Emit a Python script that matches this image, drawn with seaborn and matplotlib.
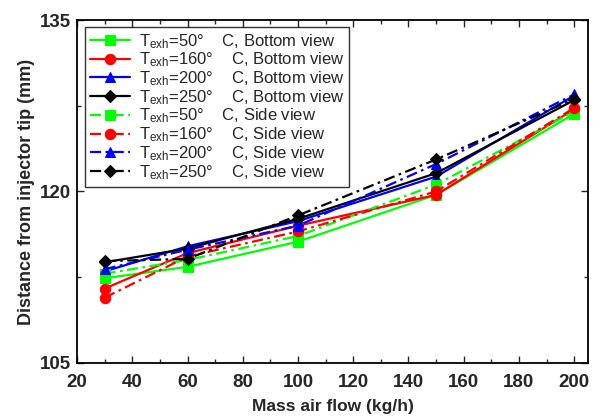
import matplotlib
matplotlib.use("Agg")
import matplotlib.pyplot as plt
from matplotlib.ticker import MultipleLocator
import seaborn as sns
import pandas as pd

sns.set_style("ticks")
plt.rcParams["font.family"] = ["Liberation Sans", "DejaVu Sans"]
plt.rcParams["mathtext.fontset"] = "custom"
plt.rcParams["mathtext.rm"] = "Liberation Sans"
plt.rcParams["mathtext.it"] = "Liberation Sans"

# Mass air flow (kg/h)
air_flow = [30, 60, 100, 150, 200]

# Penetration distance, bottom view (mm)
bottom_50 = [112.4, 113.4, 115.6, 119.7, 126.8]
bottom_160 = [111.5, 114.6, 117.0, 119.7, 127.2]
bottom_200 = [113.0, 115.2, 117.4, 121.3, 128.4]
bottom_250 = [113.8, 115.0, 117.6, 121.6, 128.0]

# Penetration distance, side view (mm)
side_50 = [112.8, 114.0, 116.1, 120.6, 127.0]
side_160 = [110.7, 114.3, 116.5, 120.0, 127.3]
side_200 = [113.2, 114.9, 117.0, 122.4, 128.5]
side_250 = [113.9, 114.1, 117.9, 122.8, 128.1]

temps = ["50", "160", "200", "250"]
colors = ["#00ff00", "#ff0000", "#0000ff", "#000000"]
markers = ["s", "o", "^", "D"]

series = [
    ("Bottom view", bottom_50, 0), ("Bottom view", bottom_160, 1),
    ("Bottom view", bottom_200, 2), ("Bottom view", bottom_250, 3),
    ("Side view", side_50, 0), ("Side view", side_160, 1),
    ("Side view", side_200, 2), ("Side view", side_250, 3),
]

fig = plt.figure(figsize=(5.97, 4.18), dpi=100)
ax = fig.add_axes([0.129, 0.132, 0.856, 0.820])

for view, vals, i in series:
    df = pd.DataFrame({"flow": air_flow, "dist": vals})
    label = r"T$_{\mathregular{exh}}$=" + temps[i] + "°    C, " + view
    dash = (None if view == "Bottom view" else (5, 2, 1.2, 2))
    line_ax = sns.lineplot(data=df, x="flow", y="dist", ax=ax, color=colors[i],
                           marker=markers[i], markersize=7.5 if markers[i] != "D" else 6.5,
                           markeredgecolor=colors[i], linewidth=1.6, label=label,
                           legend=True)
    ln = line_ax.lines[-1]
    if dash is not None:
        ln.set_dashes(dash)

ax.set_xlim(20, 205)
ax.set_ylim(105, 135)
ax.xaxis.set_major_locator(MultipleLocator(20))
ax.xaxis.set_minor_locator(MultipleLocator(10))
ax.yaxis.set_major_locator(MultipleLocator(15))
ax.yaxis.set_minor_locator(MultipleLocator(7.5))
ax.tick_params(which="both", direction="in", top=True, right=True, width=1.0)
ax.tick_params(which="major", length=5, labelsize=13.5)
ax.tick_params(axis="x", which="major", pad=8)
ax.tick_params(axis="y", which="major", pad=4)
ax.tick_params(which="minor", length=3)
for lab in ax.get_xticklabels() + ax.get_yticklabels():
    lab.set_fontweight("bold")
for sp in ax.spines.values():
    sp.set_linewidth(1.3)
    sp.set_color("black")

ax.set_xlabel("Mass air flow (kg/h)", fontsize=12.5, fontweight="bold", labelpad=6)
ax.set_ylabel("Distance from injector tip (mm)", fontsize=13, fontweight="bold", labelpad=4)

leg = ax.legend(loc="upper left", bbox_to_anchor=(0.016, 0.98), borderaxespad=0,
                fontsize=12, frameon=True, fancybox=False, edgecolor="black",
                handlelength=2.4, labelspacing=0.0, borderpad=0.3,
                handletextpad=0.5)
leg.get_frame().set_linewidth(1.0)

fig.savefig("out.png", dpi=100)
